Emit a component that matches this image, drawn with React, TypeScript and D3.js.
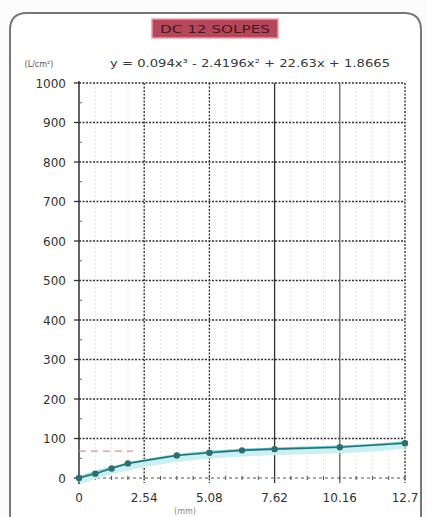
import React from "react";
import * as d3 from "d3";

const xValues = [0, 0.635, 1.27, 1.905, 3.81, 5.08, 6.35, 7.62, 10.16, 12.7];
const yValues = [0, 11, 24, 37, 57, 64, 70, 73, 78, 88];
const xTicks = [0, 2.54, 5.08, 7.62, 10.16, 12.7];
const yTicks = [0, 100, 200, 300, 400, 500, 600, 700, 800, 900, 1000];
const trendCoef = [0.094, -2.4196, 22.63, 1.8665];
const titleText = "DC 12 SOLPES";
const equationText = "y = 0.094x³ - 2.4196x² + 22.63x + 1.8665";
const yUnit = "(L/cm²)";
const xUnit = "(mm)";
const refLevel = 68;

const W = 427;
const H = 517;

export default function App() {
  const x = d3.scaleLinear().domain([0, 12.7]).range([79, 405]);
  const y = d3.scaleLinear().domain([0, 1000]).range([478, 83]);
  const pts = xValues.map((v, i) => [v, yValues[i]] as [number, number]);
  const line = d3.line<[number, number]>().x((d) => x(d[0])).y((d) => y(d[1]));
  const trendPts = d3.range(0, 12.7001, 0.1).map((t) => {
    const v = trendCoef[0] * t ** 3 + trendCoef[1] * t ** 2 + trendCoef[2] * t + trendCoef[3];
    return [t, v] as [number, number];
  });
  const minor = d3.range(0, 1001, 50).filter((v) => v % 100 !== 0);
  const xMinor = d3.range(0, 12.71, 0.635);
  const font = "DejaVu Sans, Verdana, sans-serif";
  return (
    <svg width={W} height={H} style={{ position: "absolute", left: 0, top: 0, background: "#fdfdfd" }}>
      <rect x={0} y={0} width={W} height={H} fill="#fcfcfc" />
      {/* frame */}
      <path d={`M10,${H + 5} L10,30 Q10,13 27,13 L404,13 Q421,13 421,30 L421,${H + 5}`} fill="#fff" stroke="#777" strokeWidth={2} />
      {/* title */}
      <rect x={152} y={19} width={126} height={19} fill="#b5475a" stroke="#e6a0ac" strokeWidth={1.5} />
      <text x={215} y={33} textAnchor="middle" fontFamily={font} fontSize={10} fill="#4a1520" textLength={110} lengthAdjust="spacingAndGlyphs">{titleText}</text>
      {/* equation */}
      <text x={250} y={67} textAnchor="middle" fontFamily={font} fontSize={11} fill="#3a3a3a" textLength={280} lengthAdjust="spacingAndGlyphs">{equationText}</text>
      <text x={39} y={67} textAnchor="middle" fontFamily={font} fontSize={8} fill="#555">{yUnit}</text>
      {/* faint minor vertical grid */}
      {xMinor.map((v, i) => (
        <line key={"xm" + i} x1={x(v)} x2={x(v)} y1={y(1000)} y2={y(0)} stroke="#e4e4e4" strokeWidth={1} strokeDasharray="2,2" />
      ))}
      {/* horizontal grid */}
      {yTicks.map((v) => (
        <line key={"hg" + v} x1={x(0)} x2={x(12.7)} y1={y(v)} y2={y(v)} stroke={v === 0 ? "#555" : "#333"} strokeWidth={v === 0 ? 1 : 1.3} strokeDasharray={v === 0 ? "3,3" : "2,1.5"} />
      ))}
      {/* vertical grid */}
      {xTicks.slice(1).map((v, i) => (
        <line key={"vg" + v} x1={x(v)} x2={x(v)} y1={y(1000)} y2={y(0) + 5}
          stroke={i === 3 ? "#666" : "#333"} strokeWidth={1.3}
          strokeDasharray={i === 2 || i === 3 ? undefined : "2,1.5"} />
      ))}
      {/* y axis */}
      <line x1={x(0)} x2={x(0)} y1={y(1000) - 2} y2={y(0) + 6} stroke="#333" strokeWidth={1.5} />
      {yTicks.map((v) => (
        <line key={"yt" + v} x1={x(0) - 5} x2={x(0)} y1={y(v)} y2={y(v)} stroke="#333" strokeWidth={1.3} />
      ))}
      {minor.map((v) => (
        <line key={"ym" + v} x1={x(0)} x2={x(0) + 3} y1={y(v)} y2={y(v)} stroke="#666" strokeWidth={1} />
      ))}
      {xMinor.map((v, i) => (
        <line key={"xt" + i} x1={x(v)} x2={x(v)} y1={y(0) - 2} y2={y(0) + 2} stroke="#555" strokeWidth={1} />
      ))}
      {yTicks.map((v) => (
        <text key={"yl" + v} x={66} y={y(v) + 4.5} textAnchor="end" fontFamily={font} fontSize={12} fill="#333">{v}</text>
      ))}
      {xTicks.map((v) => (
        <text key={"xl" + v} x={x(v)} y={502} textAnchor="middle" fontFamily={font} fontSize={12} fill="#333">{String(v)}</text>
      ))}
      <text x={185} y={514} textAnchor="middle" fontFamily={font} fontSize={8} fill="#888">{xUnit}</text>
      {/* pink reference */}
      <line x1={x(0)} x2={x(2.1)} y1={y(refLevel)} y2={y(refLevel)} stroke="#e08a9a" strokeWidth={1.3} strokeDasharray="7,5" />
      {/* trendline */}
      <path d={line(trendPts) || ""} fill="none" stroke="#c9f1f3" strokeWidth={8} transform="translate(0,3)" />
      <path d={line(trendPts) || ""} fill="none" stroke="#6fc7cc" strokeWidth={1.2} />
      {/* data */}
      <path d={line(pts) || ""} fill="none" stroke="#2b6f72" strokeWidth={1.6} />
      {pts.map((p, i) => (
        <circle key={"pt" + i} cx={x(p[0])} cy={y(p[1])} r={3.2} fill="#2b6f72" />
      ))}
    </svg>
  );
}
